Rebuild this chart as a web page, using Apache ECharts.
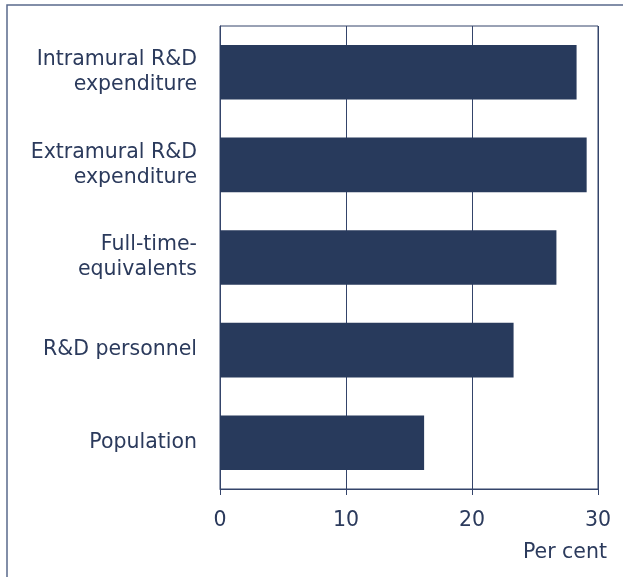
<!DOCTYPE html>
<html>
<head>
<meta charset="utf-8">
<script src="https://cdn.jsdelivr.net/npm/echarts@6/dist/echarts.min.js"></script>
<style>
  html, body { margin: 0; padding: 0; background: #fff; }
  #chart { width: 623px; height: 577px; }
</style>
</head>
<body>
<div id="chart"></div>
<script>
  // Categories top to bottom
  const categories = [
    "Intramural R&D\nexpenditure",
    "Extramural R&D\nexpenditure",
    "Full-time-\nequivalents",
    "R&D personnel",
    "Population"
  ];
  const shares = [28.3, 29.1, 26.7, 23.3, 16.2];
  const xTicks = [0, 10, 20, 30];

  const navy = "#283a5c";
  const textColor = "#2b3a5c";
  const lineColor = "#34446a";
  const font = "DejaVu Sans";
  const fs = 20.5;

  const chart = echarts.init(document.getElementById("chart"));
  chart.setOption({
    animation: false,
    backgroundColor: "#fff",
    grid: {
      left: 220,
      right: 25,
      top: 26,
      bottom: 88,
      show: true,
      borderColor: lineColor,
      borderWidth: 1
    },
    graphic: [
      {
        type: "rect",
        shape: { x: 7, y: 5, width: 700, height: 700 },
        style: { fill: null, stroke: "#5a6a8c", lineWidth: 1.5 },
        silent: true
      }
    ],
    xAxis: {
      type: "value",
      min: xTicks[0],
      max: xTicks[xTicks.length - 1],
      interval: 10,
      name: "Per cent",
      nameLocation: "end",
      nameGap: 9,
      nameTextStyle: {
        color: textColor,
        fontFamily: font,
        fontSize: fs,
        align: "right",
        verticalAlign: "top",
        padding: [53, 0, 0, 0]
      },
      axisLine: { show: true, lineStyle: { color: lineColor, width: 1 } },
      axisTick: { show: true, length: 6, lineStyle: { color: lineColor } },
      axisLabel: { color: textColor, fontFamily: font, fontSize: fs, margin: 21 },
      splitLine: { show: true, lineStyle: { color: lineColor, width: 1 } }
    },
    yAxis: {
      type: "category",
      data: categories,
      inverse: true,
      axisLine: { show: true, lineStyle: { color: lineColor, width: 1 } },
      axisTick: { show: false },
      axisLabel: {
        color: textColor,
        fontFamily: font,
        fontSize: fs,
        lineHeight: 25,
        margin: 23,
        align: "right"
      }
    },
    series: [
      {
        type: "bar",
        data: shares,
        barCategoryGap: "41%",
        itemStyle: { color: navy },
        silent: true
      }
    ]
  });
</script>
</body>
</html>
